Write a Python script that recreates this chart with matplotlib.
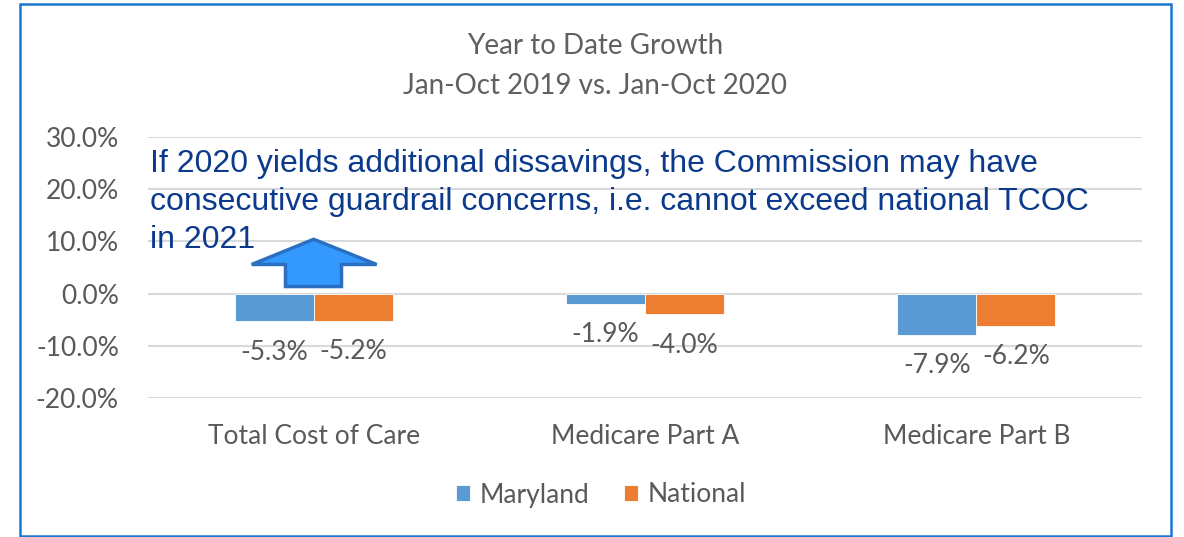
import matplotlib.pyplot as plt
import matplotlib.patches as patches
import numpy as np

categories = ["Total Cost of Care", "Medicare Part A", "Medicare Part B"]
maryland = [-5.3, -1.9, -7.9]
national = [-5.2, -4.0, -6.2]
series_names = ["Maryland", "National"]
yticks = [-20, -10, 0, 10, 20, 30]

blue = "#5B9BD5"
orange = "#ED7D31"
gray = "#595959"
note_color = "#0B3A8C"

W, H = 1184, 537
fig = plt.figure(figsize=(W / 100, H / 100), dpi=100)
fig.patch.set_facecolor("white")

# outer frame
fig.add_artist(patches.Rectangle((20 / W, 1 - 536 / H), (1171 - 20) / W, (536 - 4) / H,
                                 transform=fig.transFigure, fill=False,
                                 edgecolor="#1B78D0", linewidth=1.8))

ax = fig.add_axes([148 / W, 1 - 398 / H, (1142 - 148) / W, (398 - 137) / H])
x = np.arange(len(categories))
bw = 0.238
b1 = ax.bar(x - bw / 2, maryland, bw, color=blue, edgecolor="white", linewidth=0.6,
            label=series_names[0], zorder=3)
b2 = ax.bar(x + bw / 2, national, bw, color=orange, edgecolor="white", linewidth=0.6,
            label=series_names[1], zorder=3)

for bars, vals in ((b1, maryland), (b2, national)):
    for rect, v in zip(bars, vals):
        ax.annotate(f"{v:.1f}%", (rect.get_x() + rect.get_width() / 2, v),
                    xytext=(0, -31), textcoords="offset pixels",
                    ha="center", va="center", fontsize=19, color=gray, family="Lato")

ax.set_xlim(-0.5, 2.5)
ax.set_ylim(-20, 30)
ax.set_yticks(yticks)
ax.set_yticklabels([f"{t:.1f}%" for t in yticks], fontsize=19, color=gray, family="Lato")
ax.set_xticks(x)
ax.set_xticklabels(categories, fontsize=19, color=gray, family="Lato")
ax.tick_params(axis="both", length=0)
ax.tick_params(axis="y", pad=21)
ax.tick_params(axis="x", pad=19)
ax.grid(axis="y", color="#D9D9D9", linewidth=1.5, zorder=0)
for s in ax.spines.values():
    s.set_visible(False)

# block arrow pointing up over Total Cost of Care
arrow = patches.Polygon([(0, 10.4), (0.19, 5.58), (0.084, 5.58), (0.084, 1.35),
                         (-0.085, 1.35), (-0.085, 5.58), (-0.187, 5.58)],
                        closed=True, facecolor="#3399FF", edgecolor="#2A6FC2",
                        linewidth=2.5, zorder=5, clip_on=False)
ax.add_patch(arrow)

fig.text(595 / W, 1 - 46 / H, "Year to Date Growth", ha="center", va="center",
         fontsize=20, color="#606060", family="Lato")
fig.text(595 / W, 1 - 86 / H, "Jan-Oct 2019 vs. Jan-Oct 2020", ha="center", va="center",
         fontsize=20, color="#606060", family="Lato")

note_lines = ["If 2020 yields additional dissavings, the Commission may have",
              "consecutive guardrail concerns, i.e. cannot exceed national TCOC",
              "in 2021"]
for line, base in zip(note_lines, (172, 210, 248)):
    fig.text(150 / W, 1 - base / H, line, ha="left", va="baseline", fontsize=23,
             color=note_color, family="Liberation Sans", zorder=6)

fig.legend(handles=[b1, b2], labels=series_names, loc="center",
           bbox_to_anchor=(601 / W, 1 - 495 / H), ncol=2, frameon=False,
           prop={"family": "Lato", "size": 19}, labelcolor=gray,
           handlelength=0.55, handleheight=0.55, handletextpad=0.35, columnspacing=1.3)

fig.savefig("out.png", dpi=100, facecolor="white")
